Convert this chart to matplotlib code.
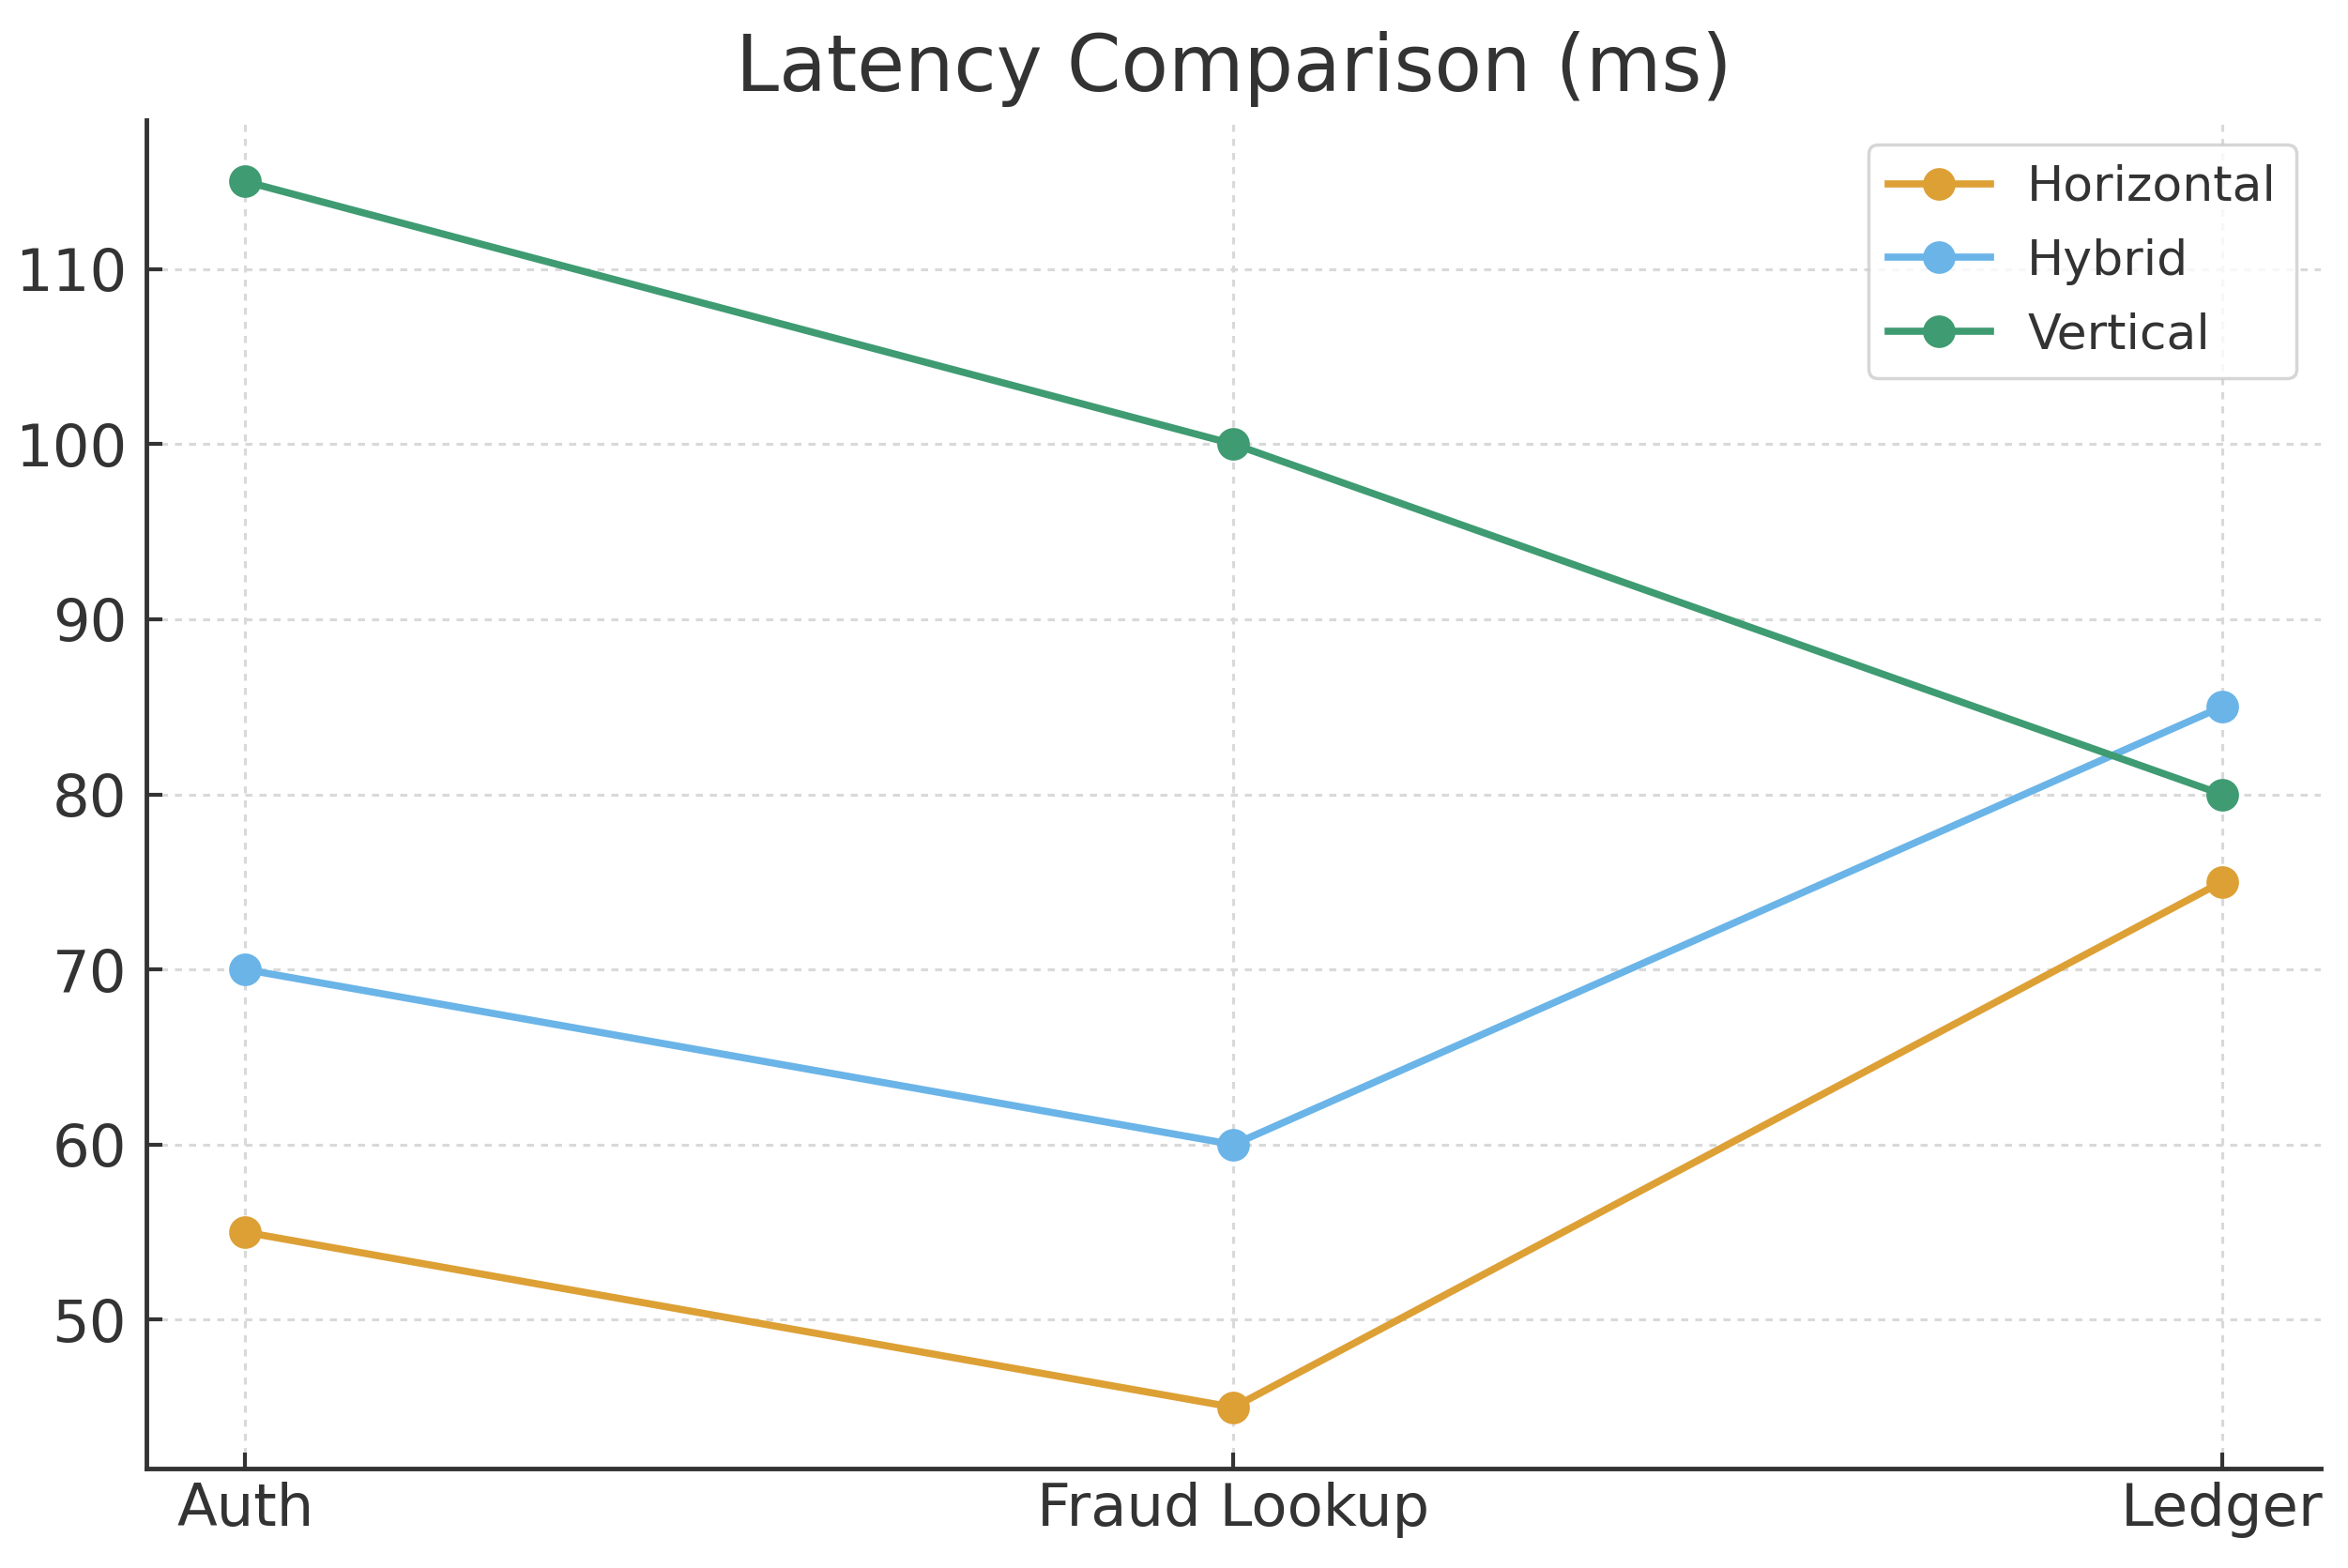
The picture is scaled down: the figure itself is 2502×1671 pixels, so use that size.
import matplotlib
matplotlib.use("Agg")
import matplotlib.pyplot as plt

# data
services = ["Auth", "Fraud Lookup", "Ledger"]
horizontal = [55, 45, 75]
hybrid = [70, 60, 85]
vertical = [115, 100, 80]

series_names = ["Horizontal", "Hybrid", "Vertical"]
series_colors = ["#DDA035", "#6AB4E8", "#3F9B72"]

text_color = "#333333"
plt.rcParams["font.family"] = "DejaVu Sans"

fig = plt.figure(figsize=(10.008, 6.684), dpi=250)
ax = fig.add_axes([0.0623, 0.0634, 0.9261, 0.86])

for name, vals, col in zip(series_names, [horizontal, hybrid, vertical], series_colors):
    ax.plot(services, vals, marker="o", markersize=9, linewidth=2.2, color=col, label=name)

ax.set_title("Latency Comparison (ms)", fontsize=23.8, color=text_color, pad=9)

# grid
ax.grid(True, color="#d9d9d9", linestyle=(0, (2.4, 2.4)), linewidth=0.9)
ax.set_axisbelow(True)

# spines
ax.spines["top"].set_visible(False)
ax.spines["right"].set_visible(False)
for s in ["left", "bottom"]:
    ax.spines[s].set_color(text_color)
    ax.spines[s].set_linewidth(1.4)

ax.tick_params(axis="both", direction="in", length=5, width=1.2, color=text_color,
               labelsize=18, labelcolor=text_color)
ax.tick_params(axis="x", pad=4)
ax.tick_params(axis="y", pad=6)

leg = ax.legend(loc="upper right", fontsize=15, labelspacing=0.55, handletextpad=0.75,
                handlelength=2.1, frameon=True, fancybox=True, framealpha=0.8,
                edgecolor="#cccccc")
for t in leg.get_texts():
    t.set_color(text_color)

fig.savefig("out.png", dpi=250, facecolor="white")
